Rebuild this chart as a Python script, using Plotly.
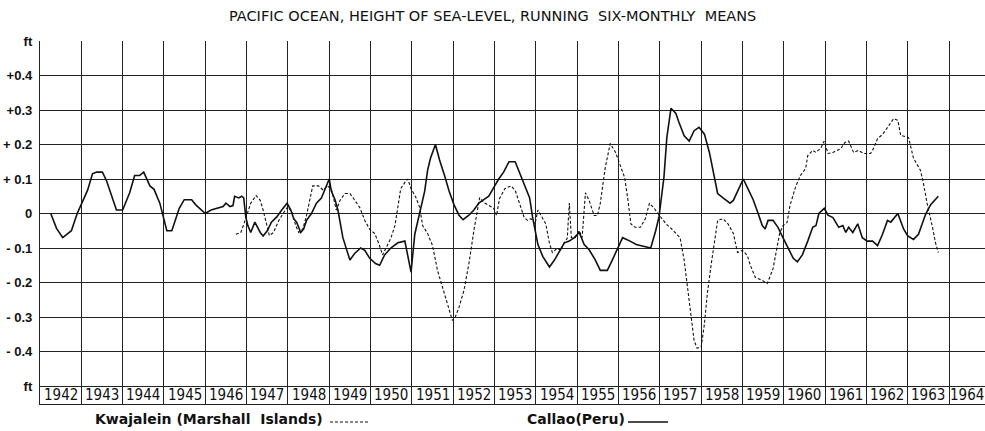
import plotly.graph_objects as go

# ---------------- data ----------------
callao_year = [
    1942.26, 1942.40, 1942.55, 1942.76, 1942.90,
    1943.02, 1943.15, 1943.27, 1943.37, 1943.51, 1943.61, 1943.85,
    1944.00, 1944.17, 1944.29, 1944.41, 1944.51, 1944.66, 1944.76, 1944.90,
    1945.07, 1945.19, 1945.37, 1945.49, 1945.67, 1945.77,
    1946.00, 1946.14, 1946.31, 1946.43, 1946.50, 1946.60, 1946.67, 1946.71, 1946.81, 1946.88, 1946.93, 1946.98,
    1947.03, 1947.10, 1947.20, 1947.33, 1947.40, 1947.50, 1947.60, 1947.73, 1947.85, 1947.98,
    1948.07, 1948.14, 1948.21, 1948.31, 1948.38, 1948.45, 1948.57, 1948.69, 1948.81, 1948.90,
    1949.00, 1949.05, 1949.14, 1949.21, 1949.33, 1949.50, 1949.62, 1949.76, 1949.86, 1949.98,
    1950.12, 1950.22, 1950.34, 1950.49, 1950.66, 1950.83, 1950.88, 1950.98,
    1951.07, 1951.14, 1951.21, 1951.31, 1951.38, 1951.45, 1951.57, 1951.67, 1951.79, 1951.90,
    1952.02, 1952.14, 1952.24, 1952.38, 1952.50, 1952.62, 1952.74, 1952.86, 1952.98,
    1953.10, 1953.22, 1953.35, 1953.50, 1953.62, 1953.75, 1953.85, 1953.92, 1954.00,
    1954.05, 1954.17, 1954.33, 1954.45, 1954.57, 1954.69, 1954.81, 1954.93,
    1955.05, 1955.17, 1955.29, 1955.44, 1955.56, 1955.73, 1955.85, 1955.98,
    1956.10, 1956.28, 1956.43, 1956.60, 1956.78, 1956.90, 1956.98,
    1957.10, 1957.17, 1957.27, 1957.39, 1957.46, 1957.59, 1957.71, 1957.83, 1957.95,
    1958.08, 1958.20, 1958.33, 1958.40, 1958.53, 1958.70, 1958.78, 1958.90,
    1959.02, 1959.14, 1959.26, 1959.38, 1959.48, 1959.55, 1959.62, 1959.74, 1959.86, 1959.98,
    1960.10, 1960.23, 1960.33, 1960.45, 1960.58, 1960.70, 1960.78, 1960.85, 1960.98,
    1961.07, 1961.19, 1961.26, 1961.33, 1961.43, 1961.50, 1961.57, 1961.67, 1961.79, 1961.90,
    1962.02, 1962.15, 1962.27, 1962.39, 1962.51, 1962.59, 1962.76, 1962.90, 1963.00,
    1963.14, 1963.26, 1963.43, 1963.55, 1963.67, 1963.74,
]
callao_ft = [
    0.0, -0.043, -0.07, -0.05, 0.0,
    0.03, 0.067, 0.115, 0.12, 0.12, 0.095, 0.01,
    0.01, 0.06, 0.11, 0.11, 0.12, 0.08, 0.07, 0.03,
    -0.05, -0.05, 0.015, 0.04, 0.04, 0.025,
    0.0, 0.01, 0.017, 0.02, 0.03, 0.02, 0.023, 0.05, 0.045, 0.05, 0.045, -0.01,
    -0.035, -0.055, -0.025, -0.055, -0.065, -0.05, -0.025, -0.01, 0.01, 0.03,
    0.01, -0.015, -0.025, -0.055, -0.045, -0.02, 0.0, 0.03, 0.045, 0.07,
    0.10, 0.065, 0.04, 0.01, -0.07, -0.135, -0.115, -0.10, -0.107, -0.13,
    -0.145, -0.15, -0.12, -0.10, -0.085, -0.08, -0.107, -0.17,
    -0.06, -0.025, 0.01, 0.065, 0.125, 0.16, 0.20, 0.155, 0.11, 0.065,
    0.025, -0.005, -0.018, -0.005, 0.01, 0.03, 0.04, 0.05, 0.075,
    0.10, 0.12, 0.15, 0.15, 0.115, 0.075, 0.045, -0.01, -0.06,
    -0.09, -0.125, -0.155, -0.135, -0.11, -0.085, -0.08, -0.07,
    -0.055, -0.09, -0.105, -0.135, -0.165, -0.165, -0.135, -0.10,
    -0.07, -0.08, -0.09, -0.095, -0.10, -0.05, -0.01,
    0.105, 0.22, 0.305, 0.29, 0.265, 0.225, 0.21, 0.24, 0.25,
    0.23, 0.177, 0.105, 0.058, 0.045, 0.03, 0.038, 0.067,
    0.10, 0.07, 0.04, 0.0, -0.035, -0.045, -0.02, -0.02, -0.04, -0.07,
    -0.10, -0.13, -0.14, -0.12, -0.08, -0.04, -0.035, 0.0, 0.015,
    -0.005, -0.012, -0.025, -0.04, -0.035, -0.055, -0.04, -0.055, -0.03, -0.07,
    -0.08, -0.08, -0.093, -0.06, -0.02, -0.025, 0.0, -0.045, -0.065,
    -0.075, -0.06, -0.003, 0.025, 0.04, 0.05,
]

kwaj_year = [
    1946.74, 1946.86, 1946.95,
    1947.03, 1947.10, 1947.23, 1947.33, 1947.40, 1947.48, 1947.55, 1947.65, 1947.78, 1947.90,
    1948.00, 1948.10, 1948.19, 1948.26, 1948.36, 1948.45, 1948.52, 1948.60, 1948.74, 1948.86, 1948.95,
    1949.05, 1949.17, 1949.26, 1949.38, 1949.50, 1949.62, 1949.74, 1949.86, 1949.98,
    1950.10, 1950.20, 1950.29, 1950.37, 1950.49, 1950.59, 1950.66, 1950.73, 1950.83, 1950.90, 1950.98,
    1951.10, 1951.19, 1951.26, 1951.38, 1951.50, 1951.62, 1951.74, 1951.86, 1951.98,
    1952.05, 1952.14, 1952.26, 1952.38, 1952.50, 1952.60, 1952.64, 1952.74, 1952.86, 1952.98,
    1953.05, 1953.12, 1953.25, 1953.40, 1953.50, 1953.62, 1953.72, 1953.80, 1953.88, 1953.98,
    1954.05, 1954.17, 1954.24, 1954.33, 1954.40, 1954.52, 1954.60, 1954.69, 1954.76, 1954.81, 1954.86, 1954.95,
    1955.05, 1955.12, 1955.20, 1955.29, 1955.41, 1955.49, 1955.56, 1955.68, 1955.80, 1955.93,
    1956.05, 1956.15, 1956.23, 1956.30, 1956.40, 1956.53, 1956.65, 1956.75, 1956.85, 1956.98,
    1957.15, 1957.29, 1957.49, 1957.59, 1957.66, 1957.76, 1957.83, 1957.90,
    1958.00, 1958.08, 1958.15, 1958.25, 1958.33, 1958.40, 1958.53, 1958.65, 1958.78, 1958.88,
    1959.00, 1959.12, 1959.19, 1959.31, 1959.48, 1959.60, 1959.74, 1959.79, 1959.90, 1959.98,
    1960.08, 1960.15, 1960.28, 1960.40, 1960.53, 1960.58, 1960.70, 1960.78, 1960.90, 1960.98,
    1961.07, 1961.19, 1961.31, 1961.38, 1961.48, 1961.57, 1961.69, 1961.81, 1961.93,
    1962.10, 1962.17, 1962.27, 1962.39, 1962.51, 1962.66, 1962.76, 1962.83, 1962.95,
    1963.02, 1963.14, 1963.31, 1963.38, 1963.48, 1963.60, 1963.67, 1963.74,
]
kwaj_ft = [
    -0.06, -0.055, -0.025,
    0.003, 0.03, 0.052, 0.038, 0.01, -0.03, -0.064, -0.055, -0.02, 0.003,
    0.02, 0.003, -0.035, -0.055, -0.045, -0.006, 0.038, 0.08, 0.08, 0.067, 0.08,
    0.072, 0.01, 0.038, 0.058, 0.058, 0.038, 0.017, -0.02, -0.046,
    -0.058, -0.087, -0.12, -0.10, -0.072, -0.035, 0.017, 0.072, 0.09, 0.10, 0.072,
    0.046, 0.017, -0.035, -0.058, -0.093, -0.165, -0.215, -0.267, -0.31,
    -0.30, -0.272, -0.223, -0.145, -0.05, 0.017, 0.046, 0.032, 0.023, 0.015,
    -0.006, 0.043, 0.072, 0.08, 0.067, 0.023, -0.012, -0.02, -0.015, -0.03,
    0.01, -0.015, -0.03, -0.087, -0.113, -0.10, -0.107, -0.084, -0.072, 0.03, -0.07, -0.07,
    -0.05, -0.07, 0.06, 0.038, -0.006, -0.006, 0.03, 0.133, 0.203, 0.177,
    0.14, 0.104, 0.038, -0.03, -0.04, -0.04, -0.015, 0.03, 0.017, -0.003,
    -0.03, -0.045, -0.07, -0.136, -0.203, -0.29, -0.368, -0.39,
    -0.388, -0.32, -0.232, -0.142, -0.07, -0.02, -0.015, -0.03, -0.058, -0.113,
    -0.107, -0.122, -0.15, -0.185, -0.194, -0.203, -0.16, -0.125, -0.058, -0.035,
    -0.026, 0.023, 0.075, 0.11, 0.13, 0.168, 0.183, 0.177, 0.19, 0.21,
    0.174, 0.177, 0.183, 0.188, 0.206, 0.21, 0.177, 0.183, 0.174,
    0.174, 0.188, 0.217, 0.229, 0.25, 0.275, 0.27, 0.226, 0.223,
    0.22, 0.16, 0.125, 0.087, 0.023, -0.04, -0.084, -0.113,
]

years = list(range(1942, 1965))
year_labels = [str(y) for y in years]
y_ticks = [0.5, 0.4, 0.3, 0.2, 0.1, 0.0, -0.1, -0.2, -0.3, -0.4, -0.5]
y_tick_text = ["ft", "+0.4", "+0.3", "+ 0.2", "+ 0.1", "0", "- 0.1", "- 0.2", "- 0.3", "- 0.4", "ft"]

title_text = "PACIFIC OCEAN, HEIGHT OF SEA-LEVEL, RUNNING\u00a0 SIX-MONTHLY\u00a0 MEANS"
kwaj_name = "Kwajalein (Marshall\u00a0 Islands)"
callao_name = "Callao(Peru)"

assert len(callao_year) == len(callao_ft)
assert len(kwaj_year) == len(kwaj_ft)

# ---------------- figure ----------------
W, H = 985, 431
ML, MR, MT, MB = 40, 0, 41, 27
ROW = 18 / 345.0          # height of the year-label row in data units
Y_LOW = -0.5 - ROW
X_MAX = 1964.87

INK = "#111111"
GRID = "#222222"
YEAR_FONT = "Liberation Sans Narrow, Arial Narrow, DejaVu Sans Condensed, Liberation Sans, sans-serif"

fig = go.Figure()
fig.add_trace(go.Scatter(x=kwaj_year, y=kwaj_ft, mode="lines", name=kwaj_name,
                         line=dict(color=INK, width=1.1, dash="3px,2px"),
                         showlegend=False, hoverinfo="skip"))
fig.add_trace(go.Scatter(x=callao_year, y=callao_ft, mode="lines", name=callao_name,
                         line=dict(color=INK, width=1.6),
                         showlegend=False, hoverinfo="skip"))

fig.update_layout(
    width=W, height=H,
    margin=dict(l=ML, r=MR, t=MT, b=MB, pad=0),
    paper_bgcolor="white", plot_bgcolor="white",
    xaxis=dict(range=[1942, X_MAX], tickvals=years, showticklabels=False, ticks="",
               showgrid=True, gridcolor=GRID, gridwidth=1.1, zeroline=False,
               showline=True, linecolor=GRID, linewidth=1.3, fixedrange=True),
    yaxis=dict(range=[Y_LOW, 0.5], tickvals=y_ticks,
               ticktext=["<b>%s</b>" % t for t in y_tick_text], ticks="",
               showgrid=True, gridcolor=GRID, gridwidth=1.1, zeroline=False,
               showline=True, linecolor=GRID, linewidth=1.3,
               tickfont=dict(family="Liberation Sans, Arial, sans-serif", size=13, color=INK),
               ticklabelstandoff=4, fixedrange=True),
    showlegend=False,
)

annotations = []
for y, lab in zip(years, year_labels):
    # centre of each year's box; the last box is cut by the right edge
    xc = y + 0.5 if y + 1 <= X_MAX else (y + X_MAX) / 2
    annotations.append(dict(x=xc, y=-0.5 - ROW / 2, xref="x", yref="y", text=lab,
                            showarrow=False, xanchor="center", yanchor="middle",
                            font=dict(family=YEAR_FONT, size=15, color=INK)))

plot_w = W - ML - MR
plot_h = H - MT - MB

def px_x(px):
    return (px - ML) / plot_w

def px_y(py):
    return (H - MB - py) / plot_h

annotations.append(dict(x=px_x(492), y=px_y(16), xref="paper", yref="paper", text=title_text,
                        showarrow=False, xanchor="center", yanchor="middle",
                        font=dict(family="DejaVu Sans, sans-serif", size=14.5, color=INK)))
annotations.append(dict(x=px_x(93), y=px_y(419), xref="paper", yref="paper", text="<b>%s</b>" % kwaj_name,
                        showarrow=False, xanchor="left", yanchor="middle",
                        font=dict(family="DejaVu Sans, sans-serif", size=14, color=INK)))
annotations.append(dict(x=px_x(525), y=px_y(419), xref="paper", yref="paper", text="<b>%s</b>" % callao_name,
                        showarrow=False, xanchor="left", yanchor="middle",
                        font=dict(family="DejaVu Sans, sans-serif", size=14, color=INK)))

shapes = [
    dict(type="line", xref="paper", yref="paper", x0=px_x(330), x1=px_x(370), y0=px_y(422), y1=px_y(422),
         line=dict(color=INK, width=1.1, dash="3px,2px")),
    dict(type="line", xref="paper", yref="paper", x0=px_x(628), x1=px_x(668), y0=px_y(422), y1=px_y(422),
         line=dict(color=INK, width=1.3)),
]

fig.update_layout(annotations=annotations, shapes=shapes)

fig.write_html("out.html")
